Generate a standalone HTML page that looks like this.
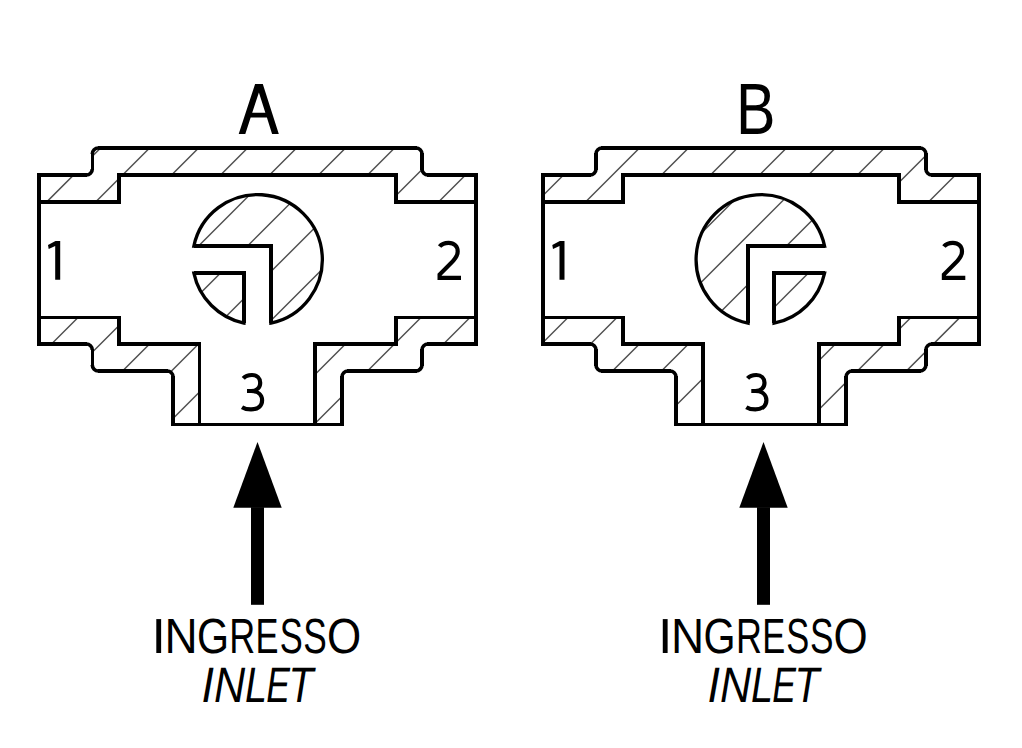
<!DOCTYPE html><html><head><meta charset="utf-8"><style>html,body{margin:0;padding:0;background:#fff;}body{width:1022px;height:748px;overflow:hidden;font-family:"Liberation Sans",sans-serif;}svg{display:block;}</style></head><body><svg width="1022" height="748" viewBox="0 0 1022 748">
<defs><clipPath id="hc"><path d="M39.00,175.00 L86.30,175.00 A6.0,6.0 0 0 0 92.30,169.00 L92.30,154.00 A6.0,6.0 0 0 1 98.30,148.00 L416.00,148.00 A6.0,6.0 0 0 1 422.00,154.00 L422.00,169.00 A6.0,6.0 0 0 0 428.00,175.00 L476.00,175.00 L476.00,202.00 L396.00,202.00 L396.00,175.00 L119.00,175.00 L119.00,202.00 L39.00,202.00 Z M39.00,317.50 L119.00,317.50 L119.00,344.00 L199.50,344.00 L199.50,424.40 L173.10,424.40 L173.10,377.00 A6.0,6.0 0 0 0 167.10,371.00 L98.30,371.00 A6.0,6.0 0 0 1 92.30,365.00 L92.30,350.00 A6.0,6.0 0 0 0 86.30,344.00 L39.00,344.00 Z M476.00,317.50 L396.00,317.50 L396.00,344.00 L315.00,344.00 L315.00,424.40 L342.00,424.40 L342.00,377.00 A6.0,6.0 0 0 1 348.00,371.00 L416.00,371.00 A6.0,6.0 0 0 0 422.00,365.00 L422.00,350.00 A6.0,6.0 0 0 1 428.00,344.00 L476.00,344.00 Z M193.87,246.05 A64.95,64.95 0 1 1 270.90,323.08 L270.90,246.05 Z M193.87,273.05 L243.90,273.05 L243.90,323.08 A64.95,64.95 0 0 1 193.87,273.05 Z M543.10,175.00 L590.00,175.00 A6.0,6.0 0 0 0 596.00,169.00 L596.00,154.00 A6.0,6.0 0 0 1 602.00,148.00 L919.90,148.00 A6.0,6.0 0 0 1 925.90,154.00 L925.90,169.00 A6.0,6.0 0 0 0 931.90,175.00 L979.00,175.00 L979.00,202.00 L898.90,202.00 L898.90,175.00 L623.00,175.00 L623.00,202.00 L543.10,202.00 Z M543.10,317.50 L623.00,317.50 L623.00,344.00 L703.00,344.00 L703.00,424.40 L676.00,424.40 L676.00,377.00 A6.0,6.0 0 0 0 670.00,371.00 L602.00,371.00 A6.0,6.0 0 0 1 596.00,365.00 L596.00,350.00 A6.0,6.0 0 0 0 590.00,344.00 L543.10,344.00 Z M979.00,317.50 L898.90,317.50 L898.90,344.00 L819.00,344.00 L819.00,424.40 L846.10,424.40 L846.10,377.00 A6.0,6.0 0 0 1 852.10,371.00 L919.90,371.00 A6.0,6.0 0 0 0 925.90,365.00 L925.90,350.00 A6.0,6.0 0 0 1 931.90,344.00 L979.00,344.00 Z M824.58,246.10 A64.95,64.95 0 1 0 748.05,323.24 L748.05,246.10 Z M824.58,273.10 L774.05,273.10 L774.05,323.24 A64.95,64.95 0 0 0 824.58,273.10 Z"/></clipPath></defs>
<path clip-path="url(#hc)" d="M-744.35,748 L3.65,0 M-695.36,748 L52.64,0 M-646.37,748 L101.63,0 M-597.38,748 L150.62,0 M-548.39,748 L199.61,0 M-499.40,748 L248.60,0 M-450.41,748 L297.59,0 M-401.42,748 L346.58,0 M-352.43,748 L395.57,0 M-303.44,748 L444.56,0 M-254.45,748 L493.55,0 M-205.46,748 L542.54,0 M-156.47,748 L591.53,0 M-107.48,748 L640.52,0 M-58.49,748 L689.51,0 M-9.50,748 L738.50,0 M39.49,748 L787.49,0 M88.48,748 L836.48,0 M137.47,748 L885.47,0 M186.46,748 L934.46,0 M235.45,748 L983.45,0 M284.44,748 L1032.44,0 M333.43,748 L1081.43,0 M382.42,748 L1130.42,0 M431.41,748 L1179.41,0 M480.40,748 L1228.40,0 M529.39,748 L1277.39,0 M578.38,748 L1326.38,0 M627.37,748 L1375.37,0 M676.36,748 L1424.36,0 M725.35,748 L1473.35,0 M774.34,748 L1522.34,0 M823.33,748 L1571.33,0 M872.32,748 L1620.32,0 M921.31,748 L1669.31,0 M970.30,748 L1718.30,0 M1019.29,748 L1767.29,0" stroke="#505050" stroke-width="1.45" fill="none"/>
<path d="M86.30,175.00 A6.0,6.0 0 0 0 92.30,169.00 M92.30,154.00 A6.0,6.0 0 0 1 98.30,148.00 M416.00,148.00 A6.0,6.0 0 0 1 422.00,154.00 M422.00,169.00 A6.0,6.0 0 0 0 428.00,175.00 M428.00,344.00 A6.0,6.0 0 0 0 422.00,350.00 M422.00,365.00 A6.0,6.0 0 0 1 416.00,371.00 M348.00,371.00 A6.0,6.0 0 0 0 342.00,377.00 M173.10,377.00 A6.0,6.0 0 0 0 167.10,371.00 M98.30,371.00 A6.0,6.0 0 0 1 92.30,365.00 M92.30,350.00 A6.0,6.0 0 0 0 86.30,344.00" fill="none" stroke="#000" stroke-width="3.6" stroke-linecap="butt"/>
<path d="M39.00,345.80 L39.00,173.20 M37.20,175.00 L87.00,175.00 M92.30,169.70 L92.30,153.30 M97.60,148.00 L416.70,148.00 M422.00,153.30 L422.00,169.70 M427.30,175.00 L477.80,175.00 M476.00,173.20 L476.00,345.80 M477.80,344.00 L427.30,344.00 M422.00,349.30 L422.00,365.70 M416.70,371.00 L347.30,371.00 M342.00,376.30 L342.00,426.20 M343.80,424.40 L171.30,424.40 M173.10,426.20 L173.10,376.30 M167.80,371.00 L97.60,371.00 M92.30,365.70 L92.30,349.30 M87.00,344.00 L37.20,344.00" fill="none" stroke="#000" stroke-width="3.6" stroke-linecap="butt" shape-rendering="crispEdges"/>
<path d="M39.00,202 L119.00,202 L119.00,175 L396.00,175 L396.00,202 L476.00,202 M39.00,317.5 L119.00,317.5 L119.00,344 L199.50,344 L199.50,424.4 M476.00,317.5 L396.00,317.5 L396.00,344 L315.00,344 L315.00,424.4" fill="none" stroke="#000" stroke-width="3.6" stroke-linecap="square" shape-rendering="crispEdges"/>
<path d="M193.87,246.05 A64.95,64.95 0 1 1 270.90,323.08 L270.90,246.05 Z M193.87,273.05 L243.90,273.05 L243.90,323.08 A64.95,64.95 0 0 1 193.87,273.05 Z" fill="none" stroke="#000" stroke-width="3.3" stroke-linejoin="miter"/>
<path d="M193.87,246.05 L270.90,246.05 L270.90,323.08 M193.87,273.05 L243.90,273.05 L243.90,323.08" fill="none" stroke="#000" stroke-width="3.8" stroke-linejoin="miter" stroke-linecap="butt" shape-rendering="crispEdges"/>
<path d="M590.00,175.00 A6.0,6.0 0 0 0 596.00,169.00 M596.00,154.00 A6.0,6.0 0 0 1 602.00,148.00 M919.90,148.00 A6.0,6.0 0 0 1 925.90,154.00 M925.90,169.00 A6.0,6.0 0 0 0 931.90,175.00 M931.90,344.00 A6.0,6.0 0 0 0 925.90,350.00 M925.90,365.00 A6.0,6.0 0 0 1 919.90,371.00 M852.10,371.00 A6.0,6.0 0 0 0 846.10,377.00 M676.00,377.00 A6.0,6.0 0 0 0 670.00,371.00 M602.00,371.00 A6.0,6.0 0 0 1 596.00,365.00 M596.00,350.00 A6.0,6.0 0 0 0 590.00,344.00" fill="none" stroke="#000" stroke-width="3.6" stroke-linecap="butt"/>
<path d="M543.10,345.80 L543.10,173.20 M541.30,175.00 L590.70,175.00 M596.00,169.70 L596.00,153.30 M601.30,148.00 L920.60,148.00 M925.90,153.30 L925.90,169.70 M931.20,175.00 L980.80,175.00 M979.00,173.20 L979.00,345.80 M980.80,344.00 L931.20,344.00 M925.90,349.30 L925.90,365.70 M920.60,371.00 L851.40,371.00 M846.10,376.30 L846.10,426.20 M847.90,424.40 L674.20,424.40 M676.00,426.20 L676.00,376.30 M670.70,371.00 L601.30,371.00 M596.00,365.70 L596.00,349.30 M590.70,344.00 L541.30,344.00" fill="none" stroke="#000" stroke-width="3.6" stroke-linecap="butt" shape-rendering="crispEdges"/>
<path d="M543.10,202 L623.00,202 L623.00,175 L898.90,175 L898.90,202 L979.00,202 M543.10,317.5 L623.00,317.5 L623.00,344 L703.00,344 L703.00,424.4 M979.00,317.5 L898.90,317.5 L898.90,344 L819.00,344 L819.00,424.4" fill="none" stroke="#000" stroke-width="3.6" stroke-linecap="square" shape-rendering="crispEdges"/>
<path d="M824.58,246.10 A64.95,64.95 0 1 0 748.05,323.24 L748.05,246.10 Z M824.58,273.10 L774.05,273.10 L774.05,323.24 A64.95,64.95 0 0 0 824.58,273.10 Z" fill="none" stroke="#000" stroke-width="3.3" stroke-linejoin="miter"/>
<path d="M824.58,246.10 L748.05,246.10 L748.05,323.24 M824.58,273.10 L774.05,273.10 L774.05,323.24" fill="none" stroke="#000" stroke-width="3.8" stroke-linejoin="miter" stroke-linecap="butt" shape-rendering="crispEdges"/>
<g font-family="Liberation Sans" fill="#000" text-rendering="geometricPrecision">
<text transform="matrix(0.5915 0 0 0.7273 736.02 133.90)" font-size="100">B</text>
<text transform="matrix(0.5189 0 0 0.4931 151.40 652.90)" font-size="100">I</text>
<text transform="matrix(0.5189 0 0 0.4931 658.00 652.90)" font-size="100">I</text>
<text transform="matrix(0.4592 0 0 0.4931 164.51 652.90)" font-size="100">N</text>
<text transform="matrix(0.4592 0 0 0.4931 671.11 652.90)" font-size="100">N</text>
<text transform="matrix(0.4123 0 0 0.4931 196.94 652.90)" font-size="100">G</text>
<text transform="matrix(0.4123 0 0 0.4931 703.54 652.90)" font-size="100">G</text>
<text transform="matrix(0.3595 0 0 0.4931 229.33 652.90)" font-size="100">R</text>
<text transform="matrix(0.3595 0 0 0.4931 735.93 652.90)" font-size="100">R</text>
<text transform="matrix(0.3447 0 0 0.4931 255.56 652.90)" font-size="100">E</text>
<text transform="matrix(0.3447 0 0 0.4931 762.16 652.90)" font-size="100">E</text>
<text transform="matrix(0.3443 0 0 0.4931 279.65 652.90)" font-size="100">S</text>
<text transform="matrix(0.3443 0 0 0.4931 786.25 652.90)" font-size="100">S</text>
<text transform="matrix(0.3530 0 0 0.4931 303.31 652.90)" font-size="100">S</text>
<text transform="matrix(0.3530 0 0 0.4931 809.91 652.90)" font-size="100">S</text>
<text transform="matrix(0.4396 0 0 0.4931 327.01 652.90)" font-size="100">O</text>
<text transform="matrix(0.4396 0 0 0.4931 833.61 652.90)" font-size="100">O</text>
<text transform="matrix(0.4489 0 0 0.4975 201.60 702.00)" font-size="100" font-style="italic">I</text>
<text transform="matrix(0.4489 0 0 0.4975 707.60 702.00)" font-size="100" font-style="italic">I</text>
<text transform="matrix(0.4318 0 0 0.4975 214.00 702.00)" font-size="100" font-style="italic">N</text>
<text transform="matrix(0.4318 0 0 0.4975 720.00 702.00)" font-size="100" font-style="italic">N</text>
<text transform="matrix(0.3956 0 0 0.4975 245.11 702.00)" font-size="100" font-style="italic">L</text>
<text transform="matrix(0.3956 0 0 0.4975 751.11 702.00)" font-size="100" font-style="italic">L</text>
<text transform="matrix(0.3550 0 0 0.4975 266.33 702.00)" font-size="100" font-style="italic">E</text>
<text transform="matrix(0.3550 0 0 0.4975 772.33 702.00)" font-size="100" font-style="italic">E</text>
<text transform="matrix(0.4069 0 0 0.4975 288.44 702.00)" font-size="100" font-style="italic">T</text>
<text transform="matrix(0.4069 0 0 0.4975 794.44 702.00)" font-size="100" font-style="italic">T</text>
<path transform="translate(0.0 0)" d="M48,245.1 L55.5,240.9 L60.2,240.9 L60.2,279.7 L55.2,279.7 L55.2,245.9 L48.7,249.1 Z" fill-rule="evenodd"/>
<path transform="translate(504.3 0)" d="M48,245.1 L55.5,240.9 L60.2,240.9 L60.2,279.7 L55.2,279.7 L55.2,245.9 L48.7,249.1 Z" fill-rule="evenodd"/>
<path transform="translate(0.0 0)" d="M238.7,133.9 L255.1,83.9 L262.8,83.9 L278.8,133.9 L272.1,133.9 L266.9,117.6 L250.65,117.6 L245.3,133.9 Z M252.2,112.8 L258.9,92.5 L265.35,112.8 Z" fill-rule="evenodd"/>
<path transform="translate(0.0 0)" d="M439.6,246.6 C441.5,244.1 444.6,242.8 448.6,242.8 C454.2,242.8 457.7,246.4 457.7,251.4 C457.7,255.6 455.4,259.0 450.6,263.6 L439.6,274.6 L439.6,277.8 L461,277.8" fill="none" stroke="#000" stroke-width="4.2" stroke-linejoin="miter" stroke-miterlimit="10"/>
<path transform="translate(504.3 0)" d="M439.6,246.6 C441.5,244.1 444.6,242.8 448.6,242.8 C454.2,242.8 457.7,246.4 457.7,251.4 C457.7,255.6 455.4,259.0 450.6,263.6 L439.6,274.6 L439.6,277.8 L461,277.8" fill="none" stroke="#000" stroke-width="4.2" stroke-linejoin="miter" stroke-miterlimit="10"/>
<path transform="translate(0.0 0)" d="M243.3,378.3 C245.2,376.1 248.3,375.0 252.0,375.0 C257.0,375.0 260.2,378.4 260.2,382.8 C260.2,387.6 256.6,391.0 251.0,391.0 L247.0,391.0 M251.0,391.0 C257.6,391.0 262.1,394.6 262.1,400.3 C262.1,406.0 257.6,409.4 251.0,409.4 C247.3,409.4 244.3,408.6 242.0,407.2" fill="none" stroke="#000" stroke-width="4.2" stroke-linejoin="miter" stroke-miterlimit="10"/>
<path transform="translate(504.3 0)" d="M243.3,378.3 C245.2,376.1 248.3,375.0 252.0,375.0 C257.0,375.0 260.2,378.4 260.2,382.8 C260.2,387.6 256.6,391.0 251.0,391.0 L247.0,391.0 M251.0,391.0 C257.6,391.0 262.1,394.6 262.1,400.3 C262.1,406.0 257.6,409.4 251.0,409.4 C247.3,409.4 244.3,408.6 242.0,407.2" fill="none" stroke="#000" stroke-width="4.2" stroke-linejoin="miter" stroke-miterlimit="10"/>
</g>
<path d="M257.50,442 L281.70,507.7 L233.30,507.7 Z" fill="#000"/><rect x="251.00" y="507.2" width="13.00" height="97.60" fill="#000"/>
<path d="M763.50,442 L787.70,507.7 L739.30,507.7 Z" fill="#000"/><rect x="757.00" y="507.2" width="13.00" height="97.60" fill="#000"/>
</svg></body></html>
